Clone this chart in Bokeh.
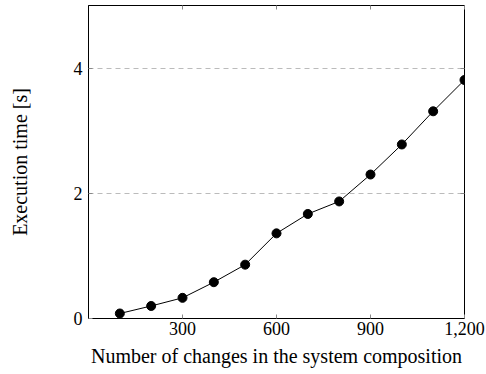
from bokeh.plotting import figure
from bokeh.models import LinearAxis, FixedTicker, NumeralTickFormatter, Range1d
from bokeh.embed import file_html
from bokeh.resources import INLINE

changes = [100, 200, 300, 400, 500, 600, 700, 800, 900, 1000, 1100, 1200]
exec_time = [0.08, 0.20, 0.33, 0.58, 0.86, 1.36, 1.67, 1.87, 2.30, 2.78, 3.31, 3.81]
x_ticks = [300, 600, 900, 1200]
y_ticks = [0, 2, 4]

FONT = "Liberation Serif"

p = figure(width=486, height=374, output_backend="svg", toolbar_location=None,
           x_range=Range1d(0, 1200), y_range=Range1d(0, 5),
           min_border_left=88, min_border_right=22, min_border_top=5, min_border_bottom=56)

p.outline_line_color = "black"
p.outline_line_width = 1
p.background_fill_color = "white"
p.border_fill_color = "white"

p.xgrid.visible = False
p.ygrid.ticker = FixedTicker(ticks=[2, 4])
p.ygrid.grid_line_color = "#bbbbbb"
p.ygrid.grid_line_dash = "5 4"
p.ygrid.grid_line_width = 1

for ax in [p.xaxis[0], p.yaxis[0]]:
    ax.major_tick_in = 4
    ax.major_tick_out = 0
    ax.minor_tick_line_color = None
    ax.axis_line_color = "black"
    ax.major_tick_line_color = "#888888"
    ax.major_label_text_font = FONT
    ax.major_label_text_font_size = "18px"
    ax.major_label_text_color = "black"
    ax.axis_label_text_font = FONT
    ax.axis_label_text_font_size = "20px"
    ax.axis_label_text_font_style = "normal"
    ax.axis_label_text_color = "black"

p.xaxis.ticker = FixedTicker(ticks=x_ticks)
p.xaxis.formatter = NumeralTickFormatter(format="0,0")
p.xaxis.axis_label = "Number of changes in the system composition"
p.xaxis.major_label_standoff = 3
p.xaxis.axis_label_standoff = 7

p.yaxis.ticker = FixedTicker(ticks=y_ticks)
p.yaxis.axis_label = "Execution time [s]"
p.yaxis.major_label_standoff = 6
p.yaxis.axis_label_standoff = 40

top = LinearAxis(ticker=FixedTicker(ticks=x_ticks), major_label_text_font_size="0px",
                 major_tick_in=4, major_tick_out=0, minor_tick_line_color=None,
                 major_tick_line_color="#888888", axis_line_color=None)
right = LinearAxis(ticker=FixedTicker(ticks=[2, 4]), major_label_text_font_size="0px",
                   major_tick_in=4, major_tick_out=0, minor_tick_line_color=None,
                   major_tick_line_color="#888888", axis_line_color=None)
p.add_layout(top, "above")
p.add_layout(right, "right")

p.line(changes, exec_time, line_color="black", line_width=1)
p.scatter(changes, exec_time, size=9, fill_color="black", line_color="black")

open("out.html", "w").write(file_html(p, INLINE))
